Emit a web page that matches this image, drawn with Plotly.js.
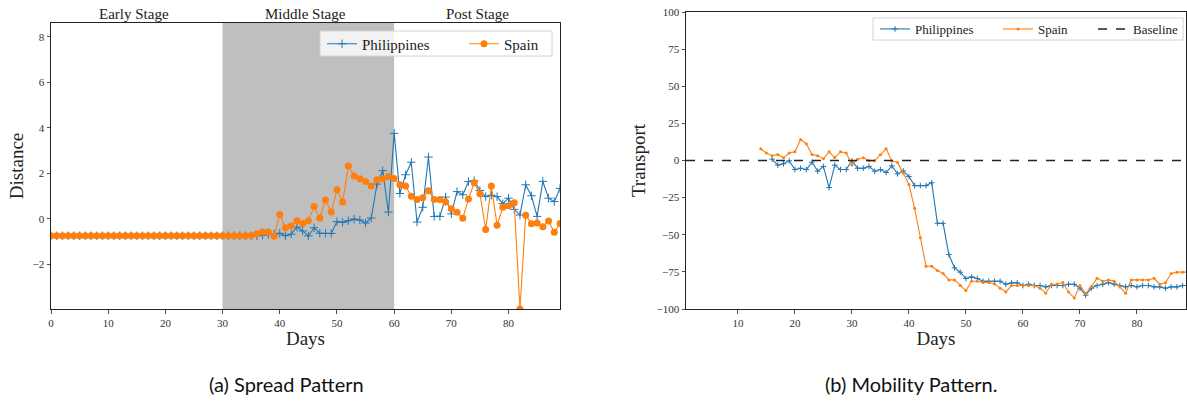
<!DOCTYPE html>
<html>
<head>
<meta charset="utf-8">
<script src="https://cdn.plot.ly/plotly-3.0.1.min.js"></script>
<style>
  html, body { margin: 0; padding: 0; background: #fff; }
  #chart { width: 1187px; height: 402px; }
</style>
</head>
<body>
<div id="chart"></div>
<script>
// ---- Spread pattern (left panel): day-by-day distance, days 0..89 ----
const spreadPhilippines = [
  -0.75, -0.75, -0.75, -0.75, -0.75, -0.75, -0.75, -0.75, -0.75, -0.75,
  -0.75, -0.75, -0.75, -0.75, -0.75, -0.75, -0.75, -0.75, -0.75, -0.75,
  -0.75, -0.75, -0.75, -0.75, -0.75, -0.75, -0.75, -0.75, -0.75, -0.75,
  -0.75, -0.75, -0.75, -0.75, -0.75, -0.75, -0.75, -0.72, -0.70, -0.68,
  -0.64, -0.75, -0.68, -0.37, -0.54, -0.76, -0.40, -0.64, -0.64, -0.65,
  -0.13, -0.16, -0.09, -0.02, -0.06, -0.19, 0.03, 1.52, 2.11, 0.29,
  3.75, 1.11, 1.93, 2.48, -0.15, 0.50, 2.71, 0.10, 0.10, 0.95,
  0.21, 1.19, 1.05, 1.63, 1.67, 1.24, 0.97, 1.03, 0.97, 0.66,
  0.90, 0.41, 0.16, 1.49, 1.01, 0.10, 1.64, 0.90, 0.75, 1.33
];
const spreadSpain = [
  -0.75, -0.75, -0.75, -0.75, -0.75, -0.75, -0.75, -0.75, -0.75, -0.75,
  -0.75, -0.75, -0.75, -0.75, -0.75, -0.75, -0.75, -0.75, -0.75, -0.75,
  -0.75, -0.75, -0.75, -0.75, -0.75, -0.75, -0.75, -0.75, -0.75, -0.75,
  -0.75, -0.75, -0.75, -0.75, -0.75, -0.74, -0.66, -0.59, -0.59, -0.77,
  0.18, -0.40, -0.32, -0.09, -0.21, -0.09, 0.53, 0.02, 0.82, 0.29,
  1.27, 0.73, 2.32, 1.88, 1.76, 1.63, 1.44, 1.71, 1.76, 1.85,
  1.77, 1.49, 1.44, 0.98, 0.84, 0.92, 1.23, 0.84, 0.84, 0.73,
  0.44, 0.28, 0.02, 0.86, 1.58, 1.10, -0.48, 1.44, -0.29, 0.50,
  0.57, 0.70, -3.97, 0.15, -0.22, -0.19, -0.35, -0.10, -0.60, -0.21
];
const spreadFirstDay = 0;

// Stage boundaries (first and last day of each stage)
const stageNames = ['Early Stage', 'Middle Stage', 'Post Stage'];
const stageStart = [0, 30, 60];
const stageEnd = [29, 59, 89];

// ---- Mobility pattern (right panel): transport change vs. baseline ----
const mobilityPhilippinesFirstDay = 16;
const mobilityPhilippines = [
  0.9, -3.1, -2.2, -0.2, -6.1, -5.2, -6.1, -1.1, -7.2, -4.0,
  -18.2, -3.1, -6.1, -6.1, -0.2, -5.2, -5.2, -4.0, -7.2, -6.1,
  -8.1, -3.6, -9.0, -7.0, -10.8, -16.9, -16.9, -16.9, -14.9, -42.3,
  -42.3, -63.3, -72.3, -75.2, -79.5, -78.4, -79.5, -81.3, -81.3, -81.3,
  -81.3, -83.3, -82.4, -82.4, -84.2, -83.3, -84.2, -84.2, -85.1, -84.2,
  -84.2, -84.2, -83.3, -83.3, -86.0, -90.7, -86.0, -84.2, -83.3, -82.2,
  -83.3, -84.2, -85.1, -84.2, -85.1, -84.2, -84.2, -85.1, -85.1, -86.0,
  -85.1, -85.1, -84.2, -84.2
];
const mobilitySpainFirstDay = 14;
const mobilitySpain = [
  7.9, 5.0, 3.2, 4.1, 1.8, 5.0, 5.9, 14.2, 11.3, 4.1,
  3.2, 1.1, 5.9, 2.0, 5.9, 5.0, -3.1, 0.9, 1.8, -0.2,
  -0.2, 3.9, 7.9, -0.4, -1.4, -8.5, -16.2, -32.2, -52.0, -71.2,
  -71.2, -74.1, -76.1, -80.4, -80.4, -84.2, -87.6, -81.3, -81.3, -82.2,
  -82.2, -83.1, -86.0, -88.5, -84.2, -84.2, -84.2, -84.2, -84.2, -86.0,
  -89.4, -83.3, -83.3, -82.2, -88.5, -92.6, -84.2, -89.6, -85.1, -79.3,
  -81.3, -80.4, -81.3, -85.1, -89.4, -80.4, -80.4, -80.4, -80.4, -79.3,
  -83.3, -82.4, -76.1, -75.2, -75.2, -75.2
];
const baselineValue = 0;

// Axis extents
const spreadXRange = [0, 89];
const spreadYRange = [-3.97, 8.6];
const mobilityXRange = [0.9, 88.6];
const mobilityYRange = [-100, 100];

const spreadXTicks = [0, 10, 20, 30, 40, 50, 60, 70, 80];
const spreadYTicks = [-2, 0, 2, 4, 6, 8];
const mobilityXTicks = [10, 20, 30, 40, 50, 60, 70, 80];
const mobilityYTicks = [-100, -75, -50, -25, 0, 25, 50, 75, 100];

// ---- helpers ----
function daysFrom(first, n) {
  const out = [];
  for (let i = 0; i < n; i++) out.push(first + i);
  return out;
}
function minusLabel(v) {
  return v < 0 ? '\u2212' + Math.abs(v) : String(v);
}

const BLUE = '#1f77b4';
const ORANGE = '#ff7f0e';
const SERIF = 'Liberation Serif, DejaVu Serif, serif';
const W = 1187, H = 402;

// pixel -> paper helpers for layout placement
const px = x => x / W;
const py = y => 1 - y / H;

const traces = [
  {
    x: daysFrom(spreadFirstDay, spreadPhilippines.length), y: spreadPhilippines,
    xaxis: 'x', yaxis: 'y', name: 'Philippines', legend: 'legend',
    mode: 'lines+markers', line: { color: BLUE, width: 1.1 },
    marker: { symbol: 'cross-thin', size: 6, color: BLUE, line: { color: BLUE, width: 1 } }
  },
  {
    x: daysFrom(spreadFirstDay, spreadSpain.length), y: spreadSpain,
    xaxis: 'x', yaxis: 'y', name: 'Spain', legend: 'legend2',
    mode: 'lines+markers', line: { color: ORANGE, width: 1.1 },
    marker: { symbol: 'circle', size: 7, color: ORANGE }
  },
  {
    x: daysFrom(mobilityPhilippinesFirstDay, mobilityPhilippines.length), y: mobilityPhilippines,
    xaxis: 'x2', yaxis: 'y2', name: 'Philippines', legend: 'legend3',
    mode: 'lines+markers', line: { color: BLUE, width: 1.1 },
    marker: { symbol: 'cross-thin', size: 4, color: BLUE, line: { color: BLUE, width: 1 } }
  },
  {
    x: daysFrom(mobilitySpainFirstDay, mobilitySpain.length), y: mobilitySpain,
    xaxis: 'x2', yaxis: 'y2', name: 'Spain', legend: 'legend4',
    mode: 'lines+markers', line: { color: ORANGE, width: 1.1 },
    marker: { symbol: 'circle', size: 3, color: ORANGE }
  },
  {
    x: mobilityXRange, y: [baselineValue, baselineValue],
    xaxis: 'x2', yaxis: 'y2', name: 'Baseline', legend: 'legend5',
    mode: 'lines', line: { color: '#222', width: 1.6, dash: 'dash' }
  }
];

function axisCommon() {
  return {
    showgrid: false, zeroline: false,
    showline: true, mirror: true, linecolor: '#222', linewidth: 1,
    ticks: 'outside', ticklen: 3.5, tickwidth: 0.8, tickcolor: '#222',
    tickfont: { family: SERIF, size: 11, color: '#333' },
    fixedrange: true
  };
}

// One borderless legend per entry so each entry can sit at its own spot
// inside a shared framed box (drawn as a shape below).
function entryLegend(xLeft, yMid, size) {
  return {
    orientation: 'h', x: px(xLeft), xanchor: 'left', y: py(yMid), yanchor: 'middle',
    bgcolor: 'rgba(0,0,0,0)', borderwidth: 0,
    font: { family: SERIF, size: size, color: '#222' }
  };
}
function legendFrame(x0, y0, x1, y1) {
  return {
    type: 'rect', xref: 'paper', yref: 'paper',
    x0: px(x0), x1: px(x1), y0: py(y1), y1: py(y0),
    fillcolor: 'rgba(255,255,255,0.8)', line: { color: '#d4d4d4', width: 1 }, layer: 'above'
  };
}

const layout = {
  width: W, height: H,
  margin: { l: 0, r: 0, t: 0, b: 0 },
  paper_bgcolor: '#fff', plot_bgcolor: '#fff',
  showlegend: true,
  xaxis: Object.assign(axisCommon(), {
    domain: [px(51), px(560)], anchor: 'y', range: spreadXRange,
    tickvals: spreadXTicks, ticktext: spreadXTicks.map(minusLabel),
    title: { text: 'Days', font: { family: SERIF, size: 19, color: '#222' }, standoff: 3 }
  }),
  yaxis: Object.assign(axisCommon(), {
    domain: [py(309), py(23)], anchor: 'x', range: spreadYRange,
    tickvals: spreadYTicks, ticktext: spreadYTicks.map(minusLabel),
    title: { text: 'Distance', font: { family: SERIF, size: 19, color: '#222' }, standoff: 3 }
  }),
  xaxis2: Object.assign(axisCommon(), {
    domain: [px(686), px(1186)], anchor: 'y2', range: mobilityXRange,
    tickvals: mobilityXTicks, ticktext: mobilityXTicks.map(minusLabel),
    title: { text: 'Days', font: { family: SERIF, size: 19, color: '#222' }, standoff: 3 }
  }),
  yaxis2: Object.assign(axisCommon(), {
    domain: [py(309), py(12)], anchor: 'x2', range: mobilityYRange,
    tickvals: mobilityYTicks, ticktext: mobilityYTicks.map(minusLabel),
    title: { text: 'Transport', font: { family: SERIF, size: 19, color: '#222' }, standoff: 5 }
  }),
  legend: entryLegend(322, 44, 15),
  legend2: entryLegend(464, 44, 15),
  legend3: entryLegend(875, 29, 13),
  legend4: entryLegend(998, 29, 13),
  legend5: entryLegend(1093, 29, 13),
  shapes: [
    {
      type: 'rect', xref: 'x', yref: 'y domain',
      x0: stageStart[1], x1: stageStart[2], y0: 0, y1: 1,
      fillcolor: '#bfbfbf', line: { width: 0 }, layer: 'below'
    },
    legendFrame(320, 31, 552, 56),
    legendFrame(873, 18, 1183, 40)
  ],
  annotations: stageNames.map((name, i) => ({
    text: name, xref: 'x', yref: 'paper',
    x: (stageStart[i] + stageEnd[i]) / 2, y: py(14),
    xanchor: 'center', yanchor: 'middle', showarrow: false,
    font: { family: SERIF, size: 15, color: '#222' }
  })).concat([
    {
      text: '(a) Spread Pattern', xref: 'paper', yref: 'paper',
      x: px(286), y: py(384), xanchor: 'center', yanchor: 'middle', showarrow: false,
      font: { family: 'Lato, Open Sans, sans-serif', size: 20, color: '#111' }
    },
    {
      text: '(b) Mobility Pattern.', xref: 'paper', yref: 'paper',
      x: px(911), y: py(384), xanchor: 'center', yanchor: 'middle', showarrow: false,
      font: { family: 'Lato, Open Sans, sans-serif', size: 20, color: '#111' }
    }
  ])
};

Plotly.newPlot('chart', traces, layout, { staticPlot: true, displayModeBar: false });
</script>
</body>
</html>
